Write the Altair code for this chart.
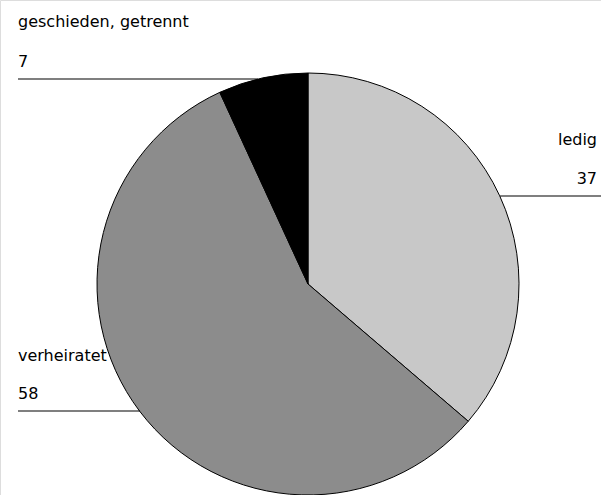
import altair as alt
import pandas as pd

# Data
categories = ["ledig", "verheiratet", "geschieden, getrennt"]
values = [37, 58, 7]
value_labels = ["37", "58", "7"]
colors = ["#c8c8c8", "#8c8c8c", "#000000"]

# Layout of annotations (pixels)
label_x = [597, 18, 18]
label_align = ["right", "left", "left"]
name_y = [145, 361, 27]
num_y = [184, 399, 67]
line_x1 = [500, 18, 18]
line_x2 = [601, 140, 258]
line_y = [196, 411, 79]

W, H = 601, 495
CX, CY, R = 308, 284, 211

pie_df = pd.DataFrame({"cat": categories, "value": values, "ord": list(range(len(categories)))})

pie = alt.Chart(pie_df).mark_arc(radius=R, stroke="black", strokeWidth=1).encode(
    theta=alt.Theta("value:Q", stack=True),
    order=alt.Order("ord:Q"),
    color=alt.Color("cat:N", scale=alt.Scale(domain=categories, range=colors), legend=None),
    x=alt.value(CX),
    y=alt.value(CY),
)

ann_df = pd.DataFrame({
    "cat": categories,
    "num": value_labels,
    "lx": label_x,
    "align": label_align,
    "ny": name_y,
    "vy": num_y,
    "x1": line_x1,
    "x2": line_x2,
    "ly": line_y,
})

font = "DejaVu Sans"
fs = 16

layers = [pie]
for i in range(3):
    row = ann_df.iloc[[i]]
    base = alt.Chart(row)
    layers.append(
        base.mark_text(align=label_align[i], baseline="alphabetic", font=font, fontSize=fs, color="black").encode(
            x=alt.X("lx:Q", scale=None, axis=None),
            y=alt.Y("ny:Q", scale=None, axis=None),
            text="cat:N",
        )
    )
    layers.append(
        base.mark_text(align=label_align[i], baseline="alphabetic", font=font, fontSize=fs, color="black").encode(
            x=alt.X("lx:Q", scale=None, axis=None),
            y=alt.Y("vy:Q", scale=None, axis=None),
            text="num:N",
        )
    )
    layers.append(
        base.mark_rule(color="black", strokeWidth=1.2).encode(
            x=alt.X("x1:Q", scale=None, axis=None),
            x2="x2:Q",
            y=alt.Y("ly:Q", scale=None, axis=None),
        )
    )

chart = alt.layer(*layers).properties(
    width=W, height=H, autosize=alt.AutoSizeParams(type="none"), padding=0
).configure_view(stroke=None).configure(background="white")

chart.save("out.html", embed_options={"renderer": "svg", "actions": False})
